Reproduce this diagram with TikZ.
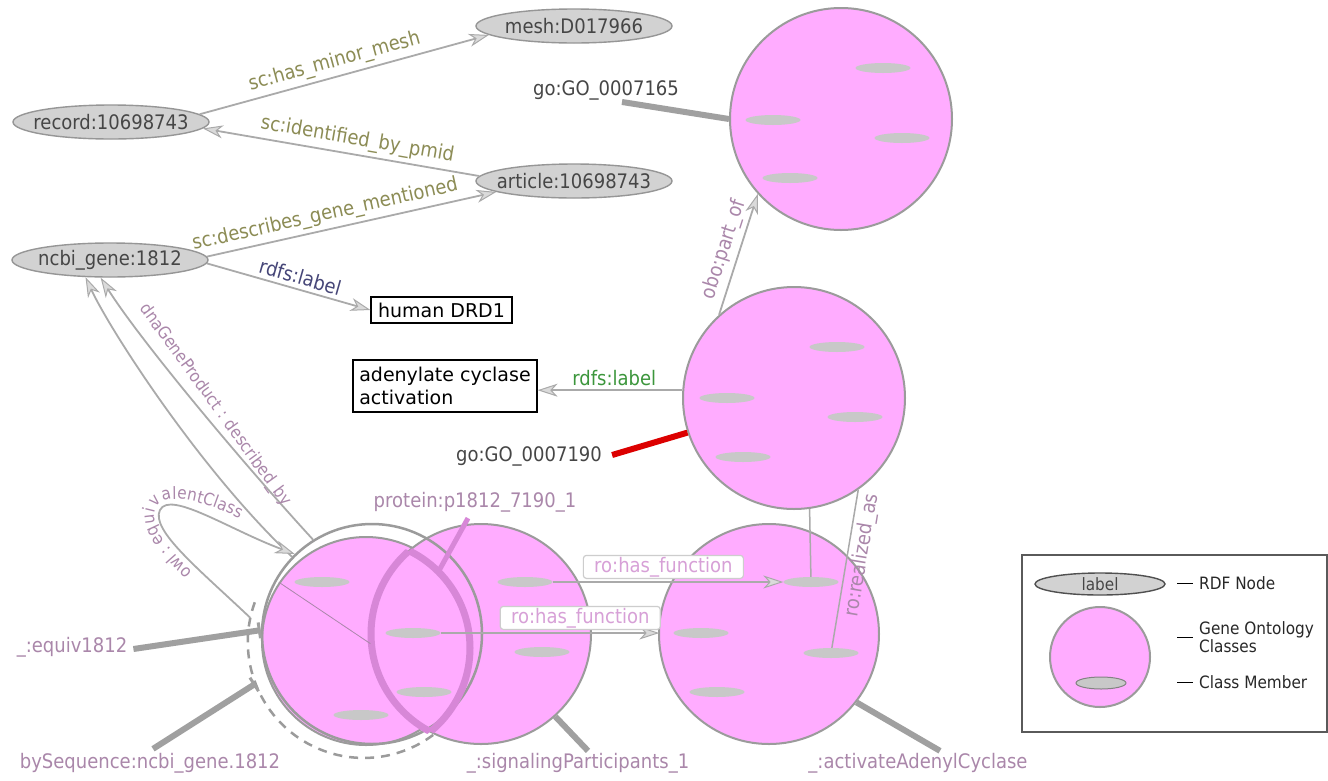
\documentclass[tikz,border=0pt]{standalone}
\usepackage{fontspec}
\setmainfont{DejaVu Sans}[FakeStretch=0.9]
\newfontfamily\boxsans{DejaVu Sans}
\usetikzlibrary{arrows.meta,shapes.geometric,calc,decorations.text}

\definecolor{pinkfill}{RGB}{255,172,255}
\definecolor{ringgray}{RGB}{155,155,155}
\definecolor{edgegray}{RGB}{170,170,170}
\definecolor{tipfill}{RGB}{218,218,218}
\definecolor{rdffill}{RGB}{210,210,210}
\definecolor{rdfline}{RGB}{150,150,150}
\definecolor{memberfill}{RGB}{200,200,200}
\definecolor{nodetext}{RGB}{70,70,70}
\definecolor{scolive}{RGB}{140,140,85}
\definecolor{navylbl}{RGB}{70,70,120}
\definecolor{greenlbl}{RGB}{60,150,60}
\definecolor{mauve}{RGB}{170,135,170}
\definecolor{funclbl}{RGB}{215,160,215}
\definecolor{lensline}{RGB}{215,135,215}
\definecolor{pinline}{RGB}{160,160,160}
\definecolor{redpin}{RGB}{220,0,0}
\definecolor{legline}{RGB}{90,90,90}

\newcommand\lblsize{\fontsize{20}{24}\selectfont}
\newcommand\legsize{\fontsize{17}{18}\selectfont}

\begin{document}
\begin{tikzpicture}[x=1pt, y=-1pt,
  rdf/.style={ellipse, minimum width=196pt, minimum height=34pt, inner sep=0pt,
    fill=rdffill, draw=rdfline, line width=1.4pt},
  rdftxt/.style={text=nodetext, font=\lblsize, inner sep=0pt},
  goclass/.style={circle, minimum size=222pt, inner sep=0pt, fill=pinkfill,
    draw=ringgray, line width=2pt},
  member/.style={ellipse, minimum width=55pt, minimum height=10pt, inner sep=0pt,
    fill=memberfill},
  arr/.style={draw=edgegray, line width=1.8pt,
    -{Stealth[length=20pt, width=13pt, inset=6pt, fill=tipfill, line width=1pt]}},
  thinline/.style={draw=edgegray, line width=1.5pt},
  edgelbl/.style={font=\lblsize, sloped, inner sep=4pt},
  pinlbl/.style={font=\lblsize, inner sep=2pt},
  pin/.style={draw=pinline, line width=6pt},
  barpin/.style={pin, -{Bar[width=16pt, line width=3pt]}},
  funcbox/.style={font=\lblsize, text=funclbl, fill=white, draw={rgb,255:red,205;green,205;blue,205},
    line width=1.2pt, rounded corners=3pt, minimum width=160pt, minimum height=23pt, inner sep=1pt},
  litbox/.style={draw=black, line width=1.2pt, fill=white, inner sep=3pt,
    font={\boxsans\fontsize{19}{23}\selectfont}},
  lenspen/.style={draw=lensline, line width=7pt},
  legtxt/.style={font=\legsize, text={rgb,255:red,40;green,40;blue,40}, inner sep=0pt, anchor=west},
  legdash/.style={draw=black, line width=1pt}
]
\useasboundingbox (0,0) rectangle (1328,780);
\fill[white] (0,0) rectangle (1328,780);

% ---------- RDF nodes ----------
\node[rdf, label={[rdftxt]center:{mesh:D017966}}] (mesh) at (574,26) {};
\node[rdf, label={[rdftxt]center:{record:10698743}}] (record) at (111,122) {};
\node[rdf, label={[rdftxt]center:{article:10698743}}] (article) at (574,181) {};
\node[rdf, label={[rdftxt]center:{ncbi\_gene:1812}}] (ncbi) at (110,260) {};

% ---------- literal boxes ----------
\node[litbox, minimum width=141pt, minimum height=26pt] (drd1) at (441.5,310) {human DRD1};
\node[litbox, minimum width=184pt, minimum height=52pt, align=left] (adc) at (445,386) {adenylate cyclase\\activation};

% ---------- Gene Ontology class circles ----------
\node[goclass] (E) at (841,119) {};
\node[goclass] (D) at (794,398) {};
\node[goclass, minimum size=220pt] (C) at (769,634) {};
\node[goclass, minimum size=208pt] (A) at (366,641) {};
\node[goclass, minimum size=220pt] (B) at (481,634) {};

% equivalence ring and dashed outline around the left class
\node[circle, minimum size=220pt, inner sep=0pt, draw=ringgray, line width=2.5pt] (ring) at (372,634) {};
\node[circle, minimum size=232pt, inner sep=0pt] (dsh) at (364,642) {};
\draw[draw=ringgray, line width=2.5pt, dash pattern=on 9pt off 7pt]
  (dsh.160) arc[start angle=160, end angle=308, radius=116pt];

% protein lens: intersection of two circles
\node[circle, minimum size=216pt, inner sep=0pt] (lensR) at (362,648) {};
\begin{scope}
  \clip (B.center) circle[radius=110pt];
  \draw[lenspen] (lensR.center) circle[radius=108pt];
\end{scope}
\begin{scope}
  \clip (lensR.center) circle[radius=108pt];
  \draw[lenspen] (B.center) circle[radius=110pt];
\end{scope}

% ---------- class members ----------
\node[member] (mE1) at (883,68) {};
\node[member] (mE2) at (773,120) {};
\node[member] (mE3) at (902,138) {};
\node[member] (mE4) at (790,178) {};
\node[member] (mD1) at (837,347) {};
\node[member] (mD2) at (727,398) {};
\node[member] (mD3) at (855,417) {};
\node[member] (mD4) at (743,457) {};
\node[member] (mC1) at (811,582) {};
\node[member] (mC2) at (701,633) {};
\node[member] (mC3) at (831,653) {};
\node[member] (mC4) at (717,692) {};
\node[member] (mB1) at (525,582) {};
\node[member] (mB2) at (542,652) {};
\node[member] (mA1) at (322,582) {};
\node[member] (mA2) at (413,633) {};
\node[member] (mA3) at (424,692) {};
\node[member] (mA4) at (361,715) {};

% ---------- free labels ----------
\node[pinlbl, text=nodetext] (go165) at (606,90) {go:GO\_0007165};
\node[pinlbl, text=nodetext] (go190) at (529,456) {go:GO\_0007190};
\node[pinlbl, text=mauve] (prot) at (475,502) {protein:p1812\_7190\_1};
\node[pinlbl, text=mauve] (equiv) at (72,647) {\_:equiv1812};
\node[pinlbl, text=mauve] (byseq) at (150,763) {bySequence:ncbi\_gene.1812};
\node[pinlbl, text=mauve] (sig) at (578,763) {\_:signalingParticipants\_1};
\node[pinlbl, text=mauve] (act) at (918,763) {\_:activateAdenylCyclase};

% ---------- edges between RDF nodes ----------
\draw[arr] (record.5) -- (mesh.186)
  node[edgelbl, pos=.48, above, text=scolive] {sc:has\_minor\_mesh};
\draw[arr] (article.177) -- (record.-4)
  node[edgelbl, pos=.45, above, text=scolive] {sc:identified\_by\_pmid};
\draw[arr] (ncbi.2) -- (article.188)
  node[edgelbl, pos=.42, above, text=scolive] {sc:describes\_gene\_mentioned};
\draw[arr] (ncbi.-2) -- (drd1.west)
  node[edgelbl, pos=.55, above, text=navylbl] {rdfs:label};

% ---------- class relations ----------
\draw[arr] (D.176) -- (D.176 -| adc.east)
  node[edgelbl, pos=.47, above, text=greenlbl] {rdfs:label};
\draw[arr] (D.132) -- (E.222)
  node[edgelbl, pos=.5, above, text=mauve] {obo:part\_of};
\draw[thinline] (mC1) -- (D.-82);
\draw[thinline] (mC3) -- (D.-55)
  node[edgelbl, pos=.6, below, text=mauve] {ro:realized\_as};
\draw[arr] (mB1) -- (mC1) node[funcbox, pos=.48, above=3pt] (hf1) {ro:has\_function};
\draw[arr, shorten >=14pt] (mA2) -- (mC2) node[funcbox, pos=.6, above=3pt] (hf2) {ro:has\_function};
\draw[draw=mauve, line width=0.8pt] (A.146) -- (B.185);

% ---------- links back to the gene record ----------
\draw[arr] (ring.136) .. controls (200,470) and (110,330) .. (ncbi.215);
\draw[arr] (ring.122) .. controls (240,460) and (140,340) .. (ncbi.242);
\node[font=\fontsize{17}{17}\selectfont, text=mauve, rotate=-54, inner sep=0pt] (dgp) at (215,405)
  {dnaGeneProduct : described\_by};

% equivalence loop with its curved label
\draw[arr] (dsh.168) .. controls (200,570) and (150,530) .. (160,510)
  .. controls (170,490) and (230,530) .. (ring.134);
\path[decorate, decoration={text along path, raise=2pt, text align={center},
    text={|\fontsize{17}{17}\selectfont\color{mauve}|owl : equivalentClass}}]
  (212,590) .. controls (180,555) and (148,528) .. (158,508)
  .. controls (168,490) and (225,510) .. (262,533);

% ---------- label pins ----------
\draw[pin] ($(go165.south)+(16,0)$) -- (E.180);
\draw[pin, draw=redpin] ($(go190.east)+(8,-1)$) -- (D.198);
\draw[barpin] ($(equiv.east)+(4,2)$) -- (ring.178);
\draw[barpin] ($(byseq.north)+(3,-2)$) -- (dsh.201);
\draw[pin] (B.-48) -- ($(sig.north)+(10,0)$);
\draw[pin] (C.-38) -- ($(act.north)+(22,0)$);
\draw[draw=lensline, line width=5pt] ($(prot.south)+(-7,4)$) -- (lensR.45);

% ---------- legend ----------
\node[draw=legline, line width=1.5pt, fill=white, minimum width=305pt, minimum height=177pt, inner sep=0pt]
  (legend) at (1174.5,643.5) {};
\node[rdf, minimum width=130pt, minimum height=22pt, draw={rgb,255:red,80;green,80;blue,80},
  label={[rdftxt, font=\legsize]center:{label}}] (lgrdf) at (1100,584) {};
\node[goclass, minimum size=100pt] (lgcls) at (1100,657) {};
\node[member, minimum width=50pt, minimum height=12pt, draw={rgb,255:red,130;green,130;blue,130}, line width=1pt]
  (lgmem) at (1101,683) {};
\node[legtxt] (lgt1) at (1199,583) {RDF Node};
\node[legtxt, align=left] (lgt2) at (1199,637) {Gene Ontology\\Classes};
\node[legtxt] (lgt3) at (1199,682) {Class Member};
\draw[legdash] ($(lgt1.west)+(-22,0)$) -- ++(16,0);
\draw[legdash] ($(lgt2.west)+(-22,0)$) -- ++(16,0);
\draw[legdash] ($(lgt3.west)+(-22,0)$) -- ++(16,0);
\end{tikzpicture}
\end{document}
